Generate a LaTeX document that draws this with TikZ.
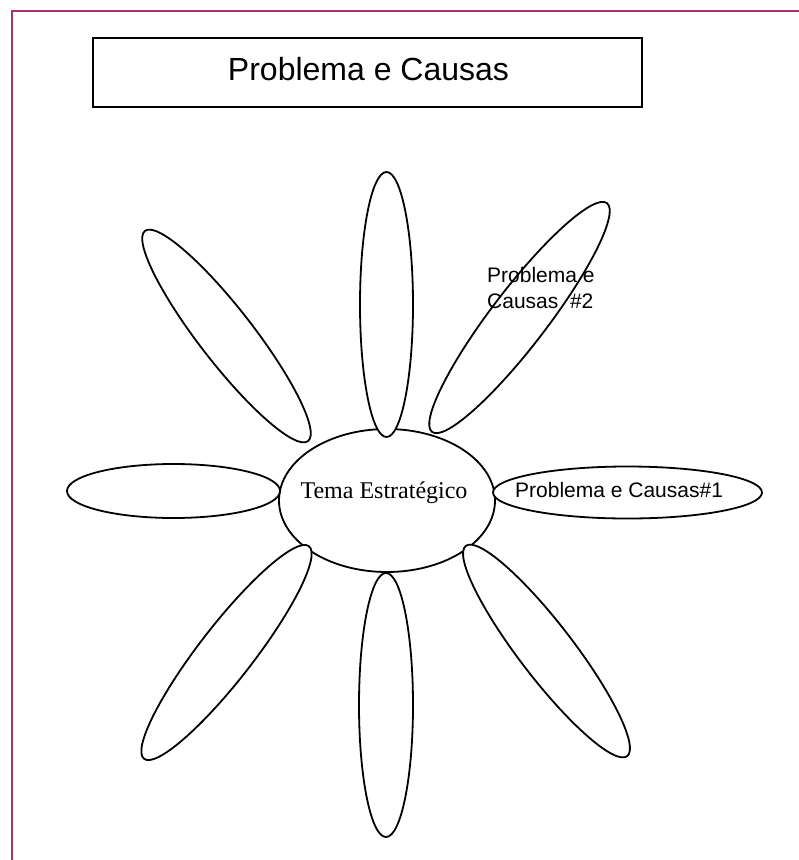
\documentclass[tikz,border=0pt]{standalone}
\usepackage{fontspec}
\setmainfont{Liberation Sans}
\newfontfamily\seriffont{Liberation Serif}
\usetikzlibrary{shapes.geometric}
\definecolor{framecol}{RGB}{168,52,110}
\begin{document}
\begin{tikzpicture}[x=1pt,y=-1pt,
  petal/.style={draw, fill=white, ellipse, line width=1.8pt, inner sep=0pt, outer sep=0pt},
  lbl/.style={font=\fontsize{21}{26}\selectfont, inner sep=0pt}]
\useasboundingbox (0,0) rectangle (799,860);
\fill[white] (0,0) rectangle (799,860);
\draw[framecol, line width=2pt] (12,860) -- (12,11) -- (799,11);
% title
\node[draw, line width=1.8pt, minimum width=549, minimum height=69, inner sep=0pt] (title) at (367.5,72.5) {};
\node[font=\fontsize{32}{38}\selectfont, inner sep=0pt, anchor=base] (titletext) at (368.5,80.7) {Problema e Causas};
% center
\node[petal, minimum width=216, minimum height=143] (center) at (387,500.5) {};
% petals
\node[petal, minimum width=53, minimum height=265] (ptop) at (386.5,304.5) {};
\node[petal, minimum width=54, minimum height=264] (pbot) at (386,705) {};
\node[petal, minimum width=269, minimum height=52] (pright) at (627.5,492.5) {};
\node[petal, minimum width=213, minimum height=54] (pleft) at (173.5,491) {};
\node[petal, minimum width=266, minimum height=54, rotate=-52.2] (pul) at (226.5,336) {};
\node[petal, minimum width=288, minimum height=56, rotate=52.6] (pur) at (519.5,317.5) {};
\node[petal, minimum width=269, minimum height=54, rotate=52.2] (pll) at (226.5,652.5) {};
\node[petal, minimum width=265, minimum height=54, rotate=-52.5] (plr) at (546.5,651) {};
% texts
\node[font=\seriffont\fontsize{24}{28}\selectfont, inner sep=0pt, anchor=base] (tema) at (384,498.6) {Tema Estratégico};
\node[lbl, anchor=base west] (lab1) at (515,497) {Problema e Causas\#1};
\node[lbl, anchor=base west] (lab2a) at (487,282) {Problema e};
\node[lbl, anchor=base west] (lab2b) at (487,308) {Causas\ \ \#2};
\end{tikzpicture}
\end{document}
